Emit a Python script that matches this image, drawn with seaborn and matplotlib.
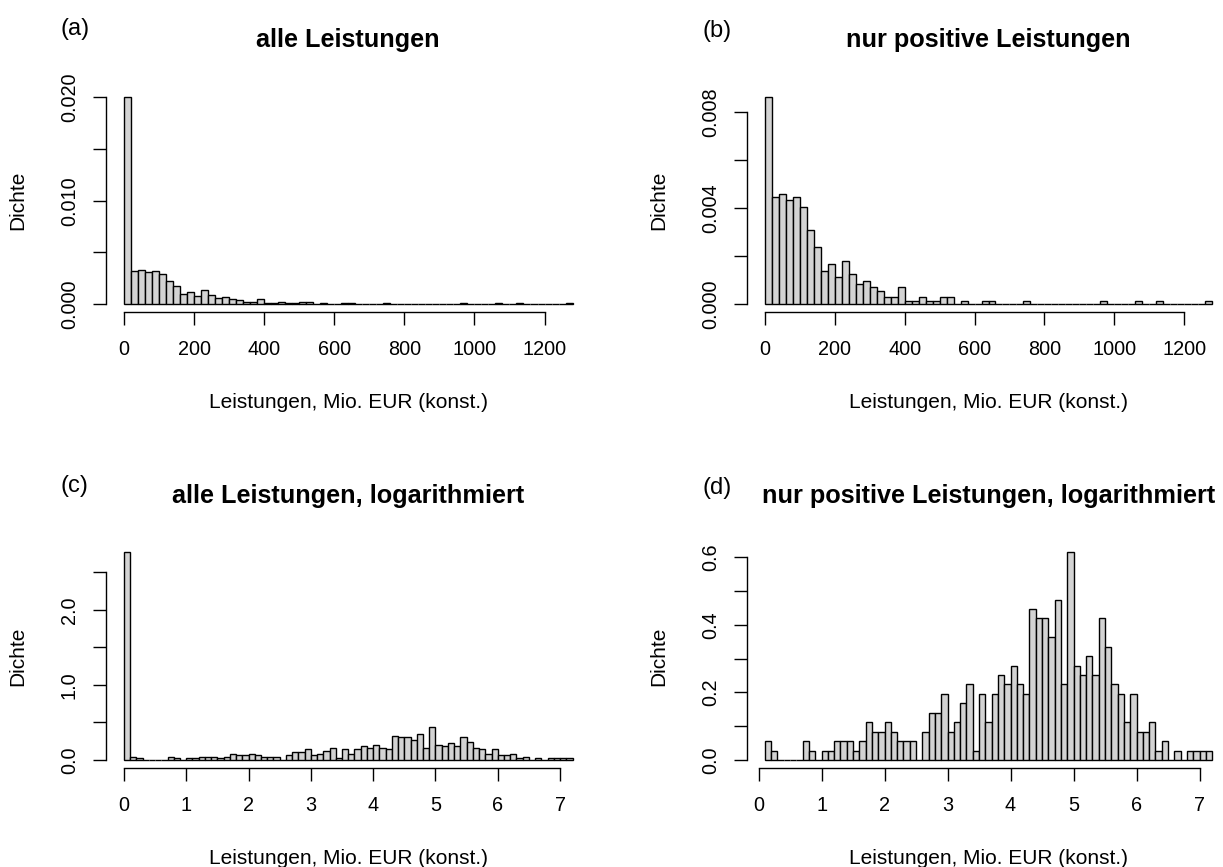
import numpy as np
import pandas as pd
import matplotlib
matplotlib.use("Agg")
import matplotlib.pyplot as plt
from matplotlib import font_manager as fm
import seaborn as sns

# Bin edges
edges_lin = np.arange(0, 1281, 20)          # 64 bins a 20 Mio. EUR
edges_log_all = np.arange(0, 73) / 10        # 0.0 .. 7.2
edges_log_pos = np.arange(1, 73) / 10        # 0.1 .. 7.2

# counts of positive values, linear bins (panel b)
counts_pos_lin = [62, 32, 33, 31, 32, 29, 22, 17, 10, 12, 8, 13, 9, 6, 7, 5,
                  4, 2, 2, 5, 1, 1, 2, 1, 1, 2, 2, 0, 1, 0, 0, 1,
                  1, 0, 0, 0, 0, 1, 0, 0, 0, 0, 0, 0, 0, 0, 0, 0,
                  1, 0, 0, 0, 0, 1, 0, 0, 1, 0, 0, 0, 0, 0, 0, 1]

# counts of positive values, log bins from 0.1 (panel d)
counts_pos_log = [2, 1, 0, 0, 0, 0, 2, 1, 0, 1, 1, 2, 2, 2, 1, 2,
                  4, 3, 3, 4, 3, 2, 2, 2, 0, 3, 5, 5, 7, 3, 4, 6,
                  8, 1, 7, 4, 7, 9, 8, 10, 8, 7, 16, 15, 15, 13, 17, 8,
                  22, 10, 9, 11, 9, 15, 12, 8, 7, 4, 7, 3, 3, 4, 1, 2,
                  0, 1, 0, 1, 1, 1, 1]

# number of zero values (only in "alle Leistungen")
n_zero = 137

counts_all_lin = [counts_pos_lin[0] + n_zero] + counts_pos_lin[1:]
counts_all_log = [n_zero] + counts_pos_log

panels = [
    ("(a)", "alle Leistungen", edges_lin, counts_all_lin,
     [0, 200, 400, 600, 800, 1000, 1200],
     [0, 0.005, 0.010, 0.015, 0.020], ["0.000", "", "0.010", "", "0.020"]),
    ("(b)", "nur positive Leistungen", edges_lin, counts_pos_lin,
     [0, 200, 400, 600, 800, 1000, 1200],
     [0, 0.002, 0.004, 0.006, 0.008], ["0.000", "", "0.004", "", "0.008"]),
    ("(c)", "alle Leistungen, logarithmiert", edges_log_all, counts_all_log,
     [0, 1, 2, 3, 4, 5, 6, 7],
     [0, 0.5, 1.0, 1.5, 2.0, 2.5], ["0.0", "", "1.0", "", "2.0", ""]),
    ("(d)", "nur positive Leistungen, logarithmiert", edges_log_pos, counts_pos_log,
     [0, 1, 2, 3, 4, 5, 6, 7],
     [0, 0.1, 0.2, 0.3, 0.4, 0.5, 0.6], ["0.0", "", "0.2", "", "0.4", "", "0.6"]),
]

sns.set_style("ticks")
plt.rcParams['font.family'] = ['Liberation Sans', 'DejaVu Sans']
plt.rcParams['text.color'] = 'black'


def liberation(weight):
    # regular Liberation Sans file (not the Narrow variant)
    for f in fm.fontManager.ttflist:
        if (f.name == "Liberation Sans" and f.weight == weight
                and f.style == "normal" and "Narrow" not in f.fname):
            return fm.FontProperties(fname=f.fname)
    return fm.FontProperties(family="Liberation Sans",
                             weight="bold" if weight == 700 else "normal")


f_reg = liberation(400)
f_bold = liberation(700)

W, H = 1223, 867
fig = plt.figure(figsize=(W / 100, H / 100), dpi=100)

# plot regions in pixels (left, top, right, bottom)
boxes = [(106, 88.5, 590.5, 312.3), (747, 88.5, 1230, 312.3),
         (106, 544, 590.5, 768.3), (747, 544, 1230, 768.3)]
title_y = [40, 40, 496, 496]
letter_pos = [(60, 29), (702, 31), (60, 486), (702, 488)]

for (letter, title, edges, counts, xt, yt, ytl), box, ty, lp in zip(
        panels, boxes, title_y, letter_pos):
    l, t, r, b = box
    ax = fig.add_axes([l / W, 1 - b / H, (r - l) / W, (b - t) / H])
    df = pd.DataFrame({"wert": (edges[:-1] + edges[1:]) / 2,
                       "anzahl": np.asarray(counts, dtype=float)})
    sns.histplot(data=df, x="wert", weights="anzahl", bins=list(edges),
                 stat="density", color="#D3D3D3", edgecolor="black",
                 linewidth=1.0, alpha=1, ax=ax)

    # R-style axis limits (4% extension)
    x0, x1 = edges[0], edges[-1]
    dx = (x1 - x0) * 0.04
    ax.set_xlim(x0 - dx, x1 + dx)
    ymax = max(p.get_height() for p in ax.patches)
    ax.set_ylim(-0.04 * ymax, 1.04 * ymax)

    ax.set_xticks(xt)
    ax.set_xticklabels([str(v) for v in xt])
    ax.set_yticks(yt)
    ax.set_yticklabels(ytl)
    ax.tick_params(direction="out", length=9.5, width=1.0,
                   color="black", labelcolor="black", bottom=True, left=True)
    ax.tick_params(axis="x", pad=10.5)
    ax.tick_params(axis="y", pad=10)
    for lab in ax.get_xticklabels():
        lab.set_fontproperties(f_reg)
        lab.set_fontsize(14.3)
    for lab in ax.get_yticklabels():
        lab.set_fontproperties(f_reg)
        lab.set_fontsize(14.3)
        lab.set_rotation(90)
        lab.set_va("center")
    for s in ["top", "right"]:
        ax.spines[s].set_visible(False)
    ax.spines["bottom"].set_bounds(xt[0], xt[-1])
    ax.spines["left"].set_bounds(yt[0], yt[-1])
    for s in ["bottom", "left"]:
        ax.spines[s].set_linewidth(1.0)
        ax.spines[s].set_color("black")
    ax.set_xlabel("")
    ax.set_ylabel("")

    cx = (l + r) / 2
    fig.text(cx / W, 1 - ty / H, title, ha="center", va="center",
             fontproperties=f_bold, fontsize=18.2)
    fig.text(lp[0] / W, 1 - lp[1] / H, letter, ha="left", va="center",
             fontproperties=f_reg, fontsize=17)
    fig.text(cx / W, 1 - (b + 90) / H, "Leistungen, Mio. EUR (konst.)",
             ha="center", va="center", fontproperties=f_reg, fontsize=15)
    fig.text((l - 88) / W, 1 - ((t + b) / 2) / H, "Dichte", ha="center",
             va="center", rotation=90, fontproperties=f_reg, fontsize=15)

fig.savefig("out.png", dpi=100)
